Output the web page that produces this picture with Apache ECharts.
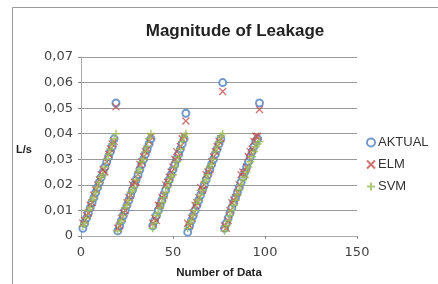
<!DOCTYPE html>
<html>
<head>
<meta charset="utf-8">
<script src="https://cdn.jsdelivr.net/npm/echarts@6/dist/echarts.min.js"></script>
<style>
  html, body { margin: 0; padding: 0; background: #fff; }
  #chart { width: 438px; height: 284px; }
</style>
</head>
<body>
<div id="chart"></div>
<script>
// nomor data 1..97
var dataIndex = [];
for (var i = 1; i <= 97; i++) { dataIndex.push(i); }

// nilai aktual (L/s)
var aktual = [
  0.003,0.005,0.007,0.009,0.011,0.013,0.015,0.017,0.019,0.021,0.023,0.025,0.027,0.029,0.031,0.033,0.035,0.038,0.052,
  0.002,0.004,0.006,0.008,0.010,0.012,0.014,0.016,0.018,0.020,0.022,0.024,0.026,0.028,0.030,0.032,0.034,0.036,0.038,
  0.004,0.006,0.008,0.010,0.012,0.014,0.016,0.018,0.020,0.022,0.024,0.026,0.028,0.030,0.032,0.034,0.036,0.038,0.048,
  0.0015,0.004,0.006,0.008,0.010,0.012,0.014,0.016,0.018,0.020,0.022,0.024,0.026,0.028,0.030,0.032,0.034,0.036,0.038,0.060,
  0.003,0.005,0.007,0.009,0.011,0.013,0.015,0.017,0.019,0.021,0.023,0.025,0.027,0.029,0.031,0.033,0.035,0.037,0.038,0.052
];
// prediksi ELM
var elm = [
  0.005,0.006,0.008,0.009,0.012,0.013,0.016,0.018,0.020,0.022,0.024,0.026,0.025,0.029,0.032,0.034,0.036,0.037,0.0505,
  0.003,0.004,0.007,0.009,0.010,0.013,0.015,0.016,0.020,0.021,0.021,0.024,0.028,0.029,0.031,0.033,0.034,0.037,0.039,
  0.005,0.007,0.006,0.012,0.012,0.015,0.016,0.020,0.021,0.023,0.025,0.027,0.030,0.033,0.031,0.035,0.038,0.039,0.045,
  0.005,0.004,0.007,0.009,0.012,0.013,0.015,0.019,0.018,0.020,0.024,0.025,0.026,0.029,0.031,0.033,0.035,0.037,0.038,0.0565,
  0.004,0.003,0.006,0.010,0.013,0.014,0.015,0.017,0.020,0.024,0.025,0.024,0.027,0.031,0.033,0.034,0.037,0.039,0.039,0.0495
];
// prediksi SVM
var svm = [
  0.004,0.005,0.007,0.010,0.011,0.014,0.015,0.017,0.019,0.021,0.023,0.024,0.027,0.030,0.032,0.034,0.036,0.038,0.040,
  0.002,0.005,0.006,0.008,0.011,0.012,0.014,0.017,0.018,0.019,0.022,0.025,0.026,0.029,0.030,0.033,0.035,0.038,0.040,
  0.003,0.005,0.008,0.009,0.011,0.013,0.015,0.017,0.019,0.021,0.023,0.024,0.027,0.029,0.031,0.034,0.037,0.039,0.040,
  0.003,0.005,0.006,0.008,0.010,0.013,0.014,0.016,0.018,0.021,0.022,0.024,0.027,0.028,0.030,0.033,0.035,0.037,0.039,0.040,
  0.002,0.004,0.006,0.008,0.010,0.012,0.014,0.016,0.018,0.020,0.022,0.023,0.025,0.027,0.029,0.031,0.033,0.035,0.036,0.037
];

var seriesNames = ['AKTUAL', 'ELM', 'SVM'];
var xTicks = [0, 50, 100, 150];

function pairs(vals) {
  var out = [];
  for (var k = 0; k < vals.length; k++) { out.push([dataIndex[k], vals[k]]); }
  return out;
}

var font = 'Liberation Sans, Arial, sans-serif';
var tickFont = 'DejaVu Sans, sans-serif';
var myChart = echarts.init(document.getElementById('chart'));
var option = {
  animation: false,
  backgroundColor: '#fff',
  title: {
    text: 'Magnitude of Leakage',
    left: 230, top: 18, textAlign: 'center',
    textStyle: { fontFamily: font, fontSize: 17, fontWeight: 'bold', color: '#222' }
  },
  grid: { left: 81, right: 81, top: 57, bottom: 42 },
  legend: {
    orient: 'vertical', left: 361, top: 131, itemGap: 9,
    itemWidth: 8, itemHeight: 8,
    data: seriesNames,
    textStyle: { fontFamily: font, fontSize: 13, color: '#333', padding: [0, 0, 0, -2] }
  },
  xAxis: {
    type: 'value', min: 0, max: 150, interval: 50,
    name: 'Number of Data', nameLocation: 'middle', nameGap: 31,
    nameTextStyle: { fontFamily: font, fontSize: 11.5, fontWeight: 'bold', color: '#222' },
    axisLine: { show: true, lineStyle: { color: '#aaa' } },
    axisTick: { show: true, length: 3, inside: false, lineStyle: { color: '#888' } },
    axisLabel: { fontFamily: tickFont, fontSize: 13, color: '#444', margin: 10,
      customValues: xTicks },
    splitLine: { show: false }
  },
  yAxis: {
    type: 'value', min: 0, max: 0.07, interval: 0.01,
    axisLine: { show: true, lineStyle: { color: '#aaa' } },
    axisTick: { show: true, length: 3, lineStyle: { color: '#888' } },
    axisLabel: {
      fontFamily: tickFont, fontSize: 13, color: '#444', margin: 8,
      formatter: function (v) { return v === 0 ? '0' : v.toFixed(2).replace('.', ','); }
    },
    splitLine: { show: true, lineStyle: { color: '#999', width: 1 } }
  },
  graphic: [
    { type: 'rect', shape: { x: 12.5, y: 7.5, width: 440, height: 290 },
      style: { fill: 'none', stroke: '#999', lineWidth: 1 }, silent: true },
    { type: 'text', left: 16, top: 144,
      style: { text: 'L/s', fontFamily: font, fontSize: 11, fontWeight: 'bold', fill: '#222' } }
  ],
  series: [
    {
      name: 'AKTUAL', type: 'scatter', symbol: 'emptyCircle', symbolSize: 7,
      itemStyle: { color: '#4F81BD', borderColor: '#4F81BD', borderWidth: 1.3 },
      data: pairs(aktual)
    },
    {
      name: 'ELM', type: 'scatter', symbol: 'path://M0,0L10,10M10,0L0,10', symbolSize: 7,
      itemStyle: { color: 'transparent', borderColor: '#C0504D', borderWidth: 1.3 },
      data: pairs(elm)
    },
    {
      name: 'SVM', type: 'scatter', symbol: 'path://M5,0L5,10M0,5L10,5', symbolSize: 8,
      itemStyle: { color: 'transparent', borderColor: '#9BBB59', borderWidth: 1.5 },
      data: pairs(svm)
    }
  ]
};
myChart.setOption(option);
</script>
</body>
</html>
